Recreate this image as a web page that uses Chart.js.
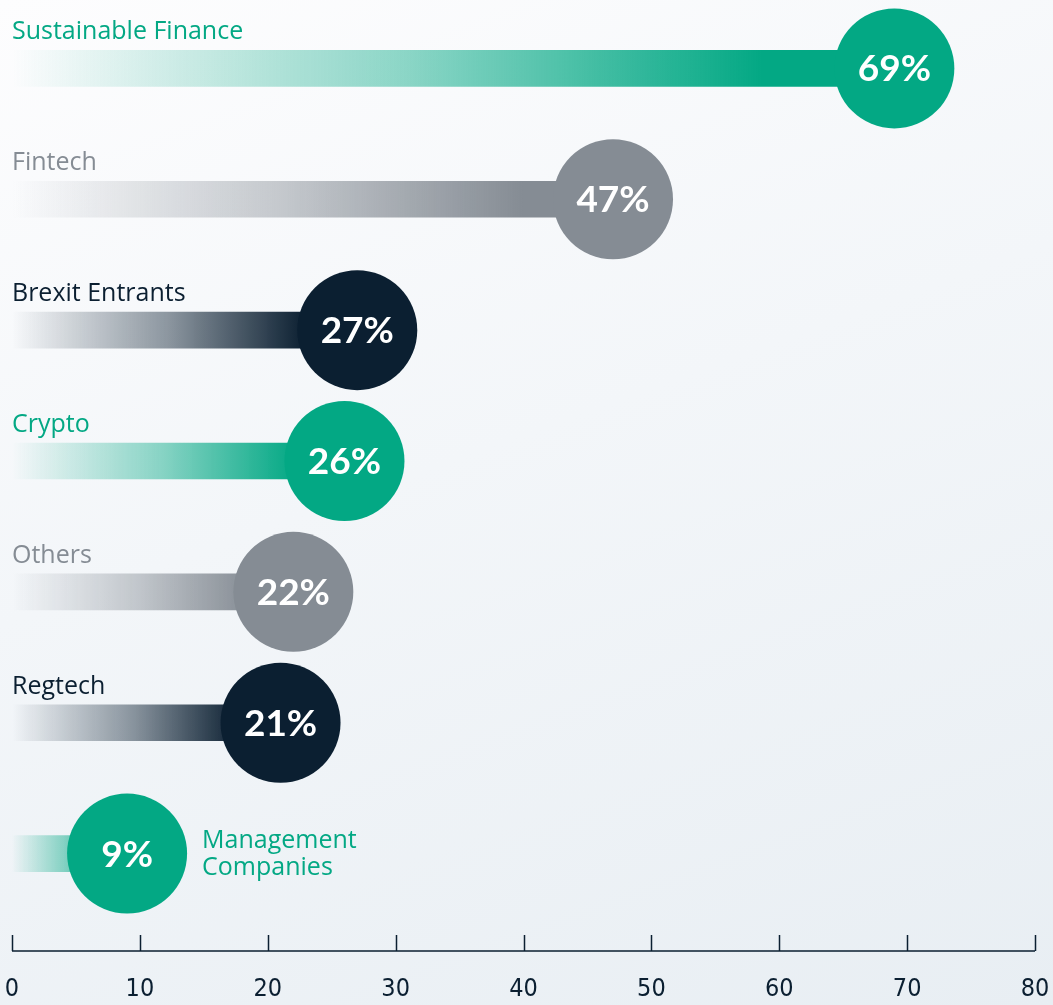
<!DOCTYPE html>
<html>
<head>
<meta charset="utf-8">
<script src="https://cdn.jsdelivr.net/npm/chart.js@4.4.1/dist/chart.umd.min.js"></script>
<style>
  html, body { margin: 0; padding: 0; }
  body {
    width: 1053px; height: 1005px; overflow: hidden;
    background: linear-gradient(160deg, #fdfdfe 0%, #f3f6f9 45%, #e8eef3 100%);
  }
  #wrap { position: relative; width: 1053px; height: 1005px; }
</style>
</head>
<body>
<div id="wrap"><canvas id="chart" width="1053" height="1005"></canvas></div>
<script>
const categories = ['Sustainable Finance', 'Fintech', 'Brexit Entrants', 'Crypto', 'Others', 'Regtech', 'Management Companies'];
const shares = [69, 47, 27, 26, 22, 21, 9];
const barColors = ['#03a884', '#858c94', '#0b1f31', '#03a884', '#858c94', '#0b1f31', '#03a884'];
const labelColors = ['#03a884', '#858c94', '#0b1f31', '#03a884', '#858c94', '#0b1f31', '#03a884'];

const FONT = '"Open Sans", "Noto Sans", sans-serif';
const NUM_FONT = 'Lato, "Open Sans", sans-serif';
const TICK_FONT = '"Liberation Sans Narrow", "DejaVu Sans Condensed", "Open Sans", sans-serif';

function hexToRgba(hex, a) {
    const n = parseInt(hex.slice(1), 16);
    return `rgba(${(n >> 16) & 255}, ${(n >> 8) & 255}, ${n & 255}, ${a})`;
}

function barGradient(context) {
    const chart = context.chart;
    const area = chart.chartArea;
    if (!area) return null;
    const i = context.dataIndex;
    const end = chart.scales.x.getPixelForValue(shares[i]);
    const g = chart.ctx.createLinearGradient(area.left, 0, end, 0);
    g.addColorStop(0, hexToRgba(barColors[i], 0));
    g.addColorStop(0.45, hexToRgba(barColors[i], 0.45));
    g.addColorStop(0.85, hexToRgba(barColors[i], 1));
    g.addColorStop(1, hexToRgba(barColors[i], 1));
    return g;
}

// circles with the value, label above each bar, axis line with upward ticks
const bubblePlugin = {
    id: 'bubbles',
    afterDatasetsDraw(chart) {
        const ctx = chart.ctx;
        const x = chart.scales.x;
        const meta = chart.getDatasetMeta(0);
        const r = 60;
        ctx.save();
        meta.data.forEach((bar, i) => {
            const cx = x.getPixelForValue(shares[i]);
            const cy = bar.y;
            ctx.beginPath();
            ctx.arc(cx, cy, r, 0, Math.PI * 2);
            ctx.fillStyle = barColors[i];
            ctx.fill();

            ctx.fillStyle = '#ffffff';
            ctx.font = `bold 37px ${NUM_FONT}`;
            ctx.textAlign = 'center';
            ctx.textBaseline = 'middle';
            ctx.fillText(shares[i] + '%', cx, cy + 1);

            ctx.fillStyle = labelColors[i];
            ctx.font = `25px ${FONT}`;
            ctx.textAlign = 'left';
            const w = ctx.measureText(categories[i]).width;
            if (cx - x.left > w) {
                ctx.textBaseline = 'alphabetic';
                ctx.fillText(categories[i], x.left, cy - 29);
            } else {
                const words = categories[i].split(' ');
                ctx.textBaseline = 'middle';
                ctx.fillText(words[0], cx + r + 15, cy - 13);
                ctx.fillText(words.slice(1).join(' '), cx + r + 15, cy + 14);
            }
        });

        const axisY = chart.chartArea.bottom + 32;
        ctx.strokeStyle = '#0b1f31';
        ctx.lineWidth = 1.5;
        ctx.beginPath();
        ctx.moveTo(x.left, axisY);
        ctx.lineTo(x.right, axisY);
        x.ticks.forEach(t => {
            const px = Math.round(x.getPixelForValue(t.value)) + 0.5;
            ctx.moveTo(px, axisY);
            ctx.lineTo(px, axisY - 16);
        });
        ctx.stroke();
        ctx.restore();
    }
};

new Chart(document.getElementById('chart'), {
    type: 'bar',
    data: {
        labels: categories,
        datasets: [{
            data: shares,
            backgroundColor: barGradient,
            barThickness: 36,
            borderWidth: 0
        }]
    },
    options: {
        indexAxis: 'y',
        responsive: false,
        animation: false,
        layout: { padding: { left: 12, right: 18, top: 3, bottom: 1 } },
        plugins: { legend: { display: false }, tooltip: { enabled: false } },
        scales: {
            x: {
                min: 0,
                max: 80,
                ticks: {
                    stepSize: 10,
                    padding: 2,
                    color: '#0b1f31',
                    font: { family: TICK_FONT, size: 25, lineHeight: 1 }
                },
                grid: { display: true, drawOnChartArea: false, drawTicks: true, tickLength: 56, color: 'rgba(0,0,0,0)' },
                border: { display: false }
            },
            y: { display: false }
        }
    },
    plugins: [bubblePlugin]
});
</script>
</body>
</html>
